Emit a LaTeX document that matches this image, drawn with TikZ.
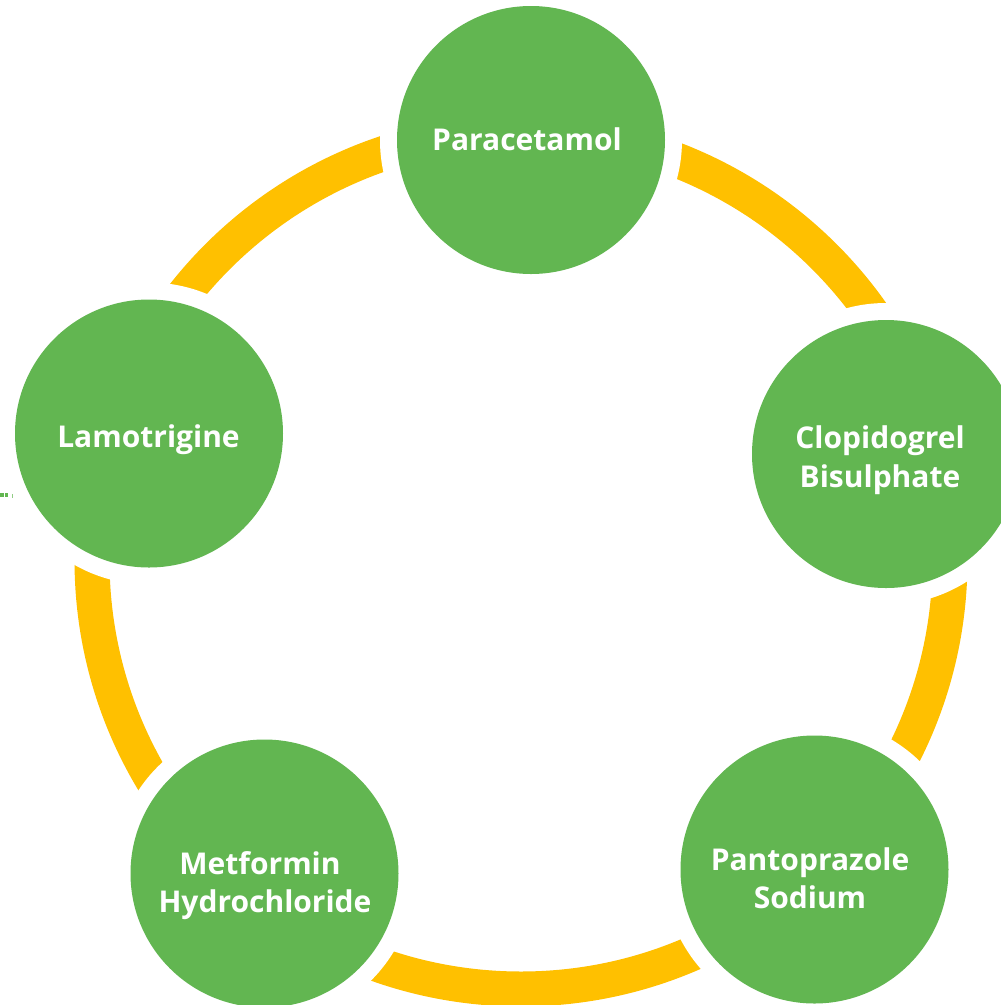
\documentclass[tikz,border=0pt]{standalone}
\usepackage{fontspec}
\setmainfont{Open Sans}
\definecolor{cgreen}{HTML}{62B651}
\definecolor{cyellow}{HTML}{FFC000}
\begin{document}
\begin{tikzpicture}[x=1pt,y=-1pt,
  bubble/.style={circle, fill=cgreen, minimum size=268pt, inner sep=0pt},
  halo/.style={circle, fill=white, minimum size=302pt, inner sep=0pt},
  lbl/.style={text=white, font=\fontsize{30}{36}\selectfont\bfseries, anchor=base, inner sep=0pt},
  ring/.style={draw=cyellow, line width=35pt}]
\useasboundingbox (0,0) rectangle (1001,1005);
\fill[white] (0,0) rectangle (1001,1005);
\coordinate (ctr) at (521,560);
\draw[ring] (ctr) circle[radius=429];
% white halos that cut the ring
\node[halo] (para-h) at (531,140) {};
\node[halo] (clop-h) at (886,454) {};
\node[halo] (pant-h) at (814.5,869.5) {};
\node[halo] (metf-h) at (264.5,873.5) {};
\node[halo] (lamo-h) at (149,433.5) {};
% green circles
\node[bubble] (para) at (para-h) {};
\node[bubble] (clop) at (clop-h) {};
\node[bubble] (pant) at (pant-h) {};
\node[bubble] (metf) at (metf-h) {};
\node[bubble] (lamo) at (lamo-h) {};
% labels
\node[lbl] (para-t) at (527,150) {Paracetamol};
\node[lbl] (lamo-t) at (148.5,447) {Lamotrigine};
\node[lbl] (clop-t1) at (880,448) {Clopidogrel};
\node[lbl] (clop-t2) at (880,487) {Bisulphate};
\node[lbl] (pant-t1) at (810,870) {Pantoprazole};
\node[lbl] (pant-t2) at (810,908) {Sodium};
\node[lbl] (metf-t1) at (260,874) {Metformin};
\node[lbl] (metf-t2) at (265,912) {Hydrochloride};
% tiny stray marks at the left edge
\fill[cgreen] (0,492.5) rectangle (3.5,497);
\fill[cgreen] (5,492.5) rectangle (8,497);
\fill[cgreen!70] (11.5,494) rectangle (12.8,497.5);
\end{tikzpicture}
\end{document}
